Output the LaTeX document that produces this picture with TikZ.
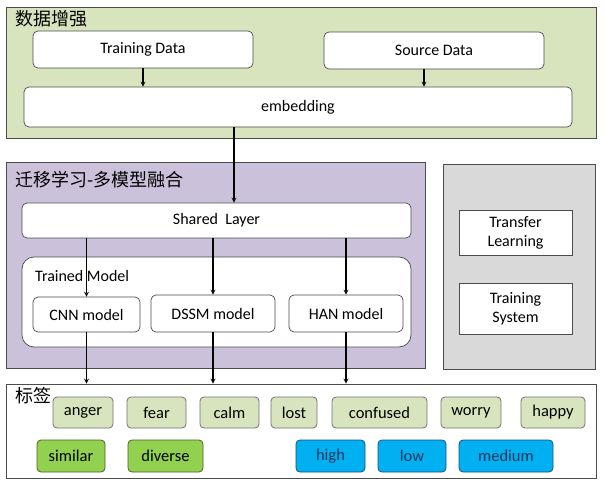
\documentclass[tikz,border=0pt]{standalone}
\usepackage{fontspec}
\setmainfont{Carlito}
\newfontfamily\cjk{Noto Sans CJK SC}
\usepackage{tikz}
\usetikzlibrary{arrows, positioning}
\definecolor{augfill}{HTML}{D7E4BD}
\definecolor{mixfill}{HTML}{CCC1DA}
\definecolor{sidefill}{HTML}{D9D9D9}
\definecolor{emofill}{HTML}{D7E4BD}
\definecolor{simfill}{HTML}{92D050}
\definecolor{simline}{HTML}{4F6228}
\definecolor{lvlfill}{HTML}{00B0F0}
\definecolor{lvlline}{HTML}{1F4E79}
\definecolor{lvltext}{HTML}{17375E}

\begin{document}
\begin{tikzpicture}[x=1pt, y=-1pt,
	grp/.style={draw=black!70, line width=.8pt, inner sep=0pt},
	box/.style={draw=black!70, fill=white, rounded corners=5pt, line width=.7pt, inner sep=0pt, font=\fontsize{16}{19}\selectfont},
	tag/.style={draw=black!55, fill=emofill, rounded corners=4pt, line width=.8pt, inner sep=0pt, minimum height=31pt, font=\fontsize{16.5}{19}\selectfont},
	title/.style={anchor=west, inner sep=0pt, font=\cjk\fontsize{18}{21}\selectfont},
	flow/.style={->, >=stealth, line width=1.2pt}]
	\useasboundingbox (0,0) rectangle (605,489);

	% data augmentation
	\node[grp, fill=augfill, minimum width=590pt, minimum height=131pt] (aug) at (301,72.5) {};
	\node[title] (augtitle) at (15,18.5) {数据增强};
	\node[box, minimum width=220pt, minimum height=37pt] (train) at (143,49.5) {Training Data};
	\node[box, minimum width=220pt, minimum height=37pt] (source) at (434,50.5) {Source Data};
	\node[box, minimum width=548pt, minimum height=40pt] (embed) at (298,107) {embedding};

	% transfer learning, model fusion
	\node[grp, fill=mixfill, minimum width=419pt, minimum height=206pt] (mix) at (215.5,265) {};
	\node[title] (mixtitle) at (15,180) {迁移学习-多模型融合};
	\node[box, minimum width=389pt, minimum height=35pt] (shared) at (216.5,220.5) {Shared\ \ Layer};
	\node[box, rounded corners=12pt, minimum width=389pt, minimum height=90pt] (trained) at (216.5,302) {};
	\node[anchor=west, inner sep=0pt, font=\fontsize{16}{19}\selectfont] (trainedlbl) at (35,276.5) {Trained Model};
	\node[box, minimum width=107pt, minimum height=35pt] (cnn) at (86.5,314.5) {CNN model};
	\node[box, minimum width=124pt, minimum height=37pt] (dssm) at (213,313.5) {DSSM model};
	\node[box, minimum width=114pt, minimum height=37pt] (han) at (346,313.5) {HAN model};

	% side panel
	\node[grp, fill=sidefill, minimum width=152pt, minimum height=205pt] (side) at (519,266.5) {};
	\node[box, rounded corners=0pt, align=center, minimum width=113pt, minimum height=45pt] (transfer) at (515.5,232.5) {Transfer\\Learning};
	\node[box, rounded corners=0pt, align=center, minimum width=113pt, minimum height=51pt] (trainsys) at (515.5,308.5) {Training\\System};

	% labels
	\node[grp, fill=white, minimum width=590pt, minimum height=94pt] (labels) at (301,431) {};
	\node[title] (labeltitle) at (15,396) {标签};
	\foreach \name/\x/\w in {anger/83/60, fear/156.5/59, calm/229.5/59, lost/294/46, confused/379.5/95, worry/471/60, happy/553/64}
		\node[tag, minimum width=\w pt] (\name) at (\x,412.5) {\name};
	\foreach \name/\x/\w in {similar/71/68, diverse/165.5/75}
		\node[tag, fill=simfill, draw=simline, minimum width=\w pt, minimum height=32pt] (\name) at (\x,456) {\name};
	\foreach \name/\x/\w in {high/330.5/69, low/412/68, medium/506/94}
		\node[tag, fill=lvlfill, draw=lvlline, text=lvltext, minimum width=\w pt, minimum height=32pt] (\name) at (\x,456) {\name};

	\draw[flow] (train.south) -- (train.south |- embed.north);
	\draw[flow] ([xshift=-10pt]source.south) -- ([xshift=-10pt]source.south |- embed.north);
	\draw[flow] ([xshift=-64pt]embed.south) -- ([xshift=-64pt]embed.south |- shared.north);
	\draw[flow] (cnn.north |- shared.south) -- (cnn.north);
	\draw[flow] (dssm.north |- shared.south) -- (dssm.north);
	\draw[flow] (han.north |- shared.south) -- (han.north);
	\draw[flow] (cnn.south) -- (cnn.south |- labels.north);
	\draw[flow] (dssm.south) -- (dssm.south |- labels.north);
	\draw[flow] (han.south) -- (han.south |- labels.north);
\end{tikzpicture}
\end{document}
